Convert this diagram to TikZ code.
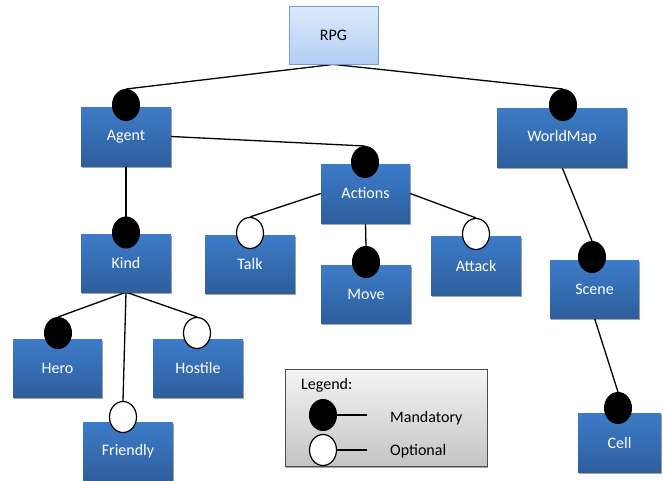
\documentclass[tikz,border=0pt]{standalone}
\usepackage{fontspec}
\setmainfont{Carlito}
\usetikzlibrary{shadows,backgrounds,shapes.geometric}
\definecolor{boxtop}{HTML}{3D7CC9}
\definecolor{boxbot}{HTML}{2E5E9C}
\definecolor{rootop}{HTML}{DDEAFB}
\definecolor{robot}{HTML}{B2CEF4}
\definecolor{roborder}{HTML}{6E9EE0}
\definecolor{legtop}{HTML}{F4F4F4}
\definecolor{legbot}{HTML}{C4C4C4}
\begin{document}
\begin{tikzpicture}[x=1pt,y=-1pt,
  feat/.style={rectangle, inner sep=0pt, top color=boxtop, bottom color=boxbot, draw=none,
    text=white, font=\fontsize{16}{19}\selectfont,
    drop shadow={shadow xshift=1.2pt, shadow yshift=-1.5pt, opacity=0.35, fill=black}},
  rootbox/.style={rectangle, inner sep=0pt, top color=rootop, bottom color=robot, draw=roborder, line width=0.8pt,
    text=black, font=\fontsize{16}{19}\selectfont},
  mand/.style={ellipse, draw=black, fill=black, line width=1pt, minimum width=27pt, minimum height=31pt, inner sep=0pt},
  opt/.style={ellipse, draw=black, fill=white, line width=1.2pt, minimum width=27pt, minimum height=31pt, inner sep=0pt},
  conn/.style={draw=black, line width=1.3pt},
  legtext/.style={font=\fontsize{16}{19}\selectfont, text=black, inner sep=0pt, anchor=west}]
\useasboundingbox (0,0) rectangle (663,480);
% boxes
\node[rootbox, minimum width=89pt, minimum height=58pt] (rpg) at (333.5,35) {RPG};
\node[feat, minimum width=90pt, minimum height=59pt] (agent) at (126,136.5) {Agent};
\node[feat, minimum width=89pt, minimum height=59pt] (actions) at (365.5,193.5) {Actions};
\node[feat, minimum width=130pt, minimum height=59pt] (world) at (562,137.5) {WorldMap};
\node[feat, minimum width=90pt, minimum height=58pt] (kind) at (126,263) {Kind};
\node[feat, minimum width=90pt, minimum height=58pt] (talk) at (250,264) {Talk};
\node[feat, minimum width=90pt, minimum height=58pt] (move) at (366,294) {Move};
\node[feat, minimum width=90pt, minimum height=59pt] (attack) at (476,265.5) {Attack};
\node[feat, minimum width=89pt, minimum height=58pt] (scene) at (594.5,289) {Scene};
\node[feat, minimum width=89pt, minimum height=58pt] (hero) at (57.5,368) {Hero};
\node[feat, minimum width=90pt, minimum height=58pt] (hostile) at (198,368) {Hostile};
\node[feat, minimum width=90pt, minimum height=58pt] (friendly) at (128,451) {Friendly};
\node[feat, minimum width=83pt, minimum height=59pt] (cell) at (619.5,442.5) {Cell};
% ellipses
\node[mand] (eagent) at (126,105) {};
\node[mand] (eactions) at (365,162) {};
\node[mand] (eworld) at (563,105) {};
\node[mand] (ekind) at (126,232.5) {};
\node[opt] (etalk) at (250,233) {};
\node[mand] (emove) at (366,262) {};
\node[opt] (eattack) at (476,234) {};
\node[mand] (escene) at (592,257) {};
\node[mand] (ehero) at (58,333) {};
\node[opt] (ehostile) at (197,333) {};
\node[opt] (efriendly) at (123,417) {};
\node[mand] (ecell) at (618,408) {};
% legend
\node[rectangle, draw=black!70, line width=0.8pt, top color=legtop, bottom color=legbot,
  minimum width=202pt, minimum height=97pt, inner sep=0pt,
  drop shadow={shadow xshift=1.2pt, shadow yshift=-1.5pt, opacity=0.35, fill=black}] (legend) at (386,417.5) {};
\node[legtext] (legtitle) at (301,385) {Legend:};
\node[mand] (lmand) at (323,415) {};
\node[opt] (lopt) at (323,450) {};
\coordinate (lmandend) at (367,415);
\coordinate (loptend) at (367,450);
\node[legtext] (lmandtext) at (390,418) {Mandatory};
\node[legtext] (lopttext) at (390,451) {Optional};
\begin{pgfonlayer}{background}
\fill[white] (0,0) rectangle (663,480);
\draw[conn] (rpg.south) -- (eagent.north);
\draw[conn] (rpg.south) -- (eworld.north);
\draw[conn] (agent.east) -- (eactions.north);
\draw[conn] (agent.south) -- (ekind.north);
\draw[conn] (kind.south) -- (ehero.north);
\draw[conn] (kind.south) -- (efriendly.north);
\draw[conn] (kind.south) -- (ehostile.north);
\draw[conn] (actions.west) -- (etalk.north);
\draw[conn] (actions.south) -- (emove.north);
\draw[conn] (actions.east) -- (eattack.north);
\draw[conn] (world.south) -- (escene.north);
\draw[conn] (scene.south) -- (ecell.north);
\end{pgfonlayer}
\draw[conn] (lmand.east) -- (lmandend);
\draw[conn] (lopt.east) -- (loptend);
\end{tikzpicture}
\end{document}
